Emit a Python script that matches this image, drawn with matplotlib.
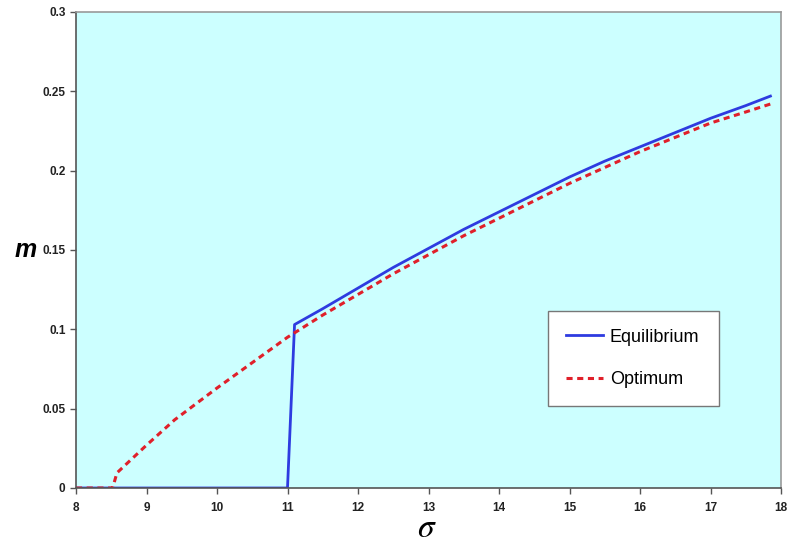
import matplotlib.pyplot as plt
import numpy as np

plt.rcParams["font.family"] = ["Liberation Sans", "DejaVu Sans"]
plt.rcParams["mathtext.fontset"] = "stix"

# values
sigma_eq = [8.0, 10.95, 11.0, 11.1, 11.5, 12.0, 12.5, 13.0, 13.5, 14.0, 14.5, 15.0, 15.5, 16.0, 16.5, 17.0, 17.5, 17.85]
m_eq = [0.0, 0.0, 0.0, 0.103, 0.113, 0.126, 0.139, 0.151, 0.163, 0.174, 0.185, 0.196, 0.206, 0.215, 0.224, 0.233, 0.241, 0.247]

sigma_opt = [8.0, 8.52, 8.58, 8.7, 9.0, 9.4, 10.0, 10.5, 11.0, 11.5, 12.0, 12.5, 13.0, 13.5, 14.0, 14.5, 15.0, 15.5, 16.0, 16.5, 17.0, 17.5, 17.85]
m_opt = [0.0, 0.0, 0.0095, 0.0145, 0.027, 0.043, 0.063, 0.079, 0.095, 0.109, 0.122, 0.135, 0.147, 0.159, 0.170, 0.181, 0.192, 0.202, 0.212, 0.221, 0.230, 0.237, 0.242]

fig = plt.figure(figsize=(7.9, 5.51), dpi=100)
ax = fig.add_axes([76 / 790, 63 / 551, 705 / 790, 476 / 551])
ax.set_facecolor("#CCFFFF")

ax.plot(sigma_eq, m_eq, color="#2E3BE0", lw=2, label="Equilibrium")
ax.plot(sigma_opt, m_opt, color="#E0202A", lw=2.2, ls=(0, (2, 1.5)), label="Optimum")

ax.set_xlim(8, 18)
ax.set_ylim(0, 0.3)
ax.set_xticks(np.arange(8, 19, 1))
ax.set_yticks(np.arange(0, 0.31, 0.05))
ax.set_yticklabels(["0", "0.05", "0.1", "0.15", "0.2", "0.25", "0.3"])
ax.tick_params(labelsize=8.5, length=4, width=1, color="#555555", direction="out")
ax.tick_params(axis="x", pad=6)
for lab in ax.get_xticklabels() + ax.get_yticklabels():
    lab.set_fontweight("bold")
    lab.set_color("#222222")

for s in ["left", "bottom"]:
    ax.spines[s].set_color("#555555")
    ax.spines[s].set_linewidth(1.2)
for s in ["top", "right"]:
    ax.spines[s].set_color("#999999")
    ax.spines[s].set_linewidth(1.2)

# axis labels placed by hand
fig.text(427 / 790, 1 - 537 / 551, r"$\sigma$", fontsize=24, ha="center", va="baseline")
ax.set_ylabel("m", fontsize=18, fontweight="bold", fontstyle="italic", rotation=0, labelpad=12, va="center")

leg = ax.legend(loc="lower left", bbox_to_anchor=(0.67, 0.172, 0.242, 0.196), mode="expand",
                fontsize=13, frameon=True, fancybox=False, handlelength=2.0, labelspacing=1.4,
                borderpad=1.0, borderaxespad=0, handletextpad=0.4)
leg.get_frame().set_edgecolor("#777777")
leg.get_frame().set_facecolor("white")
leg.get_frame().set_alpha(1)

plt.savefig("out.png", dpi=100)
